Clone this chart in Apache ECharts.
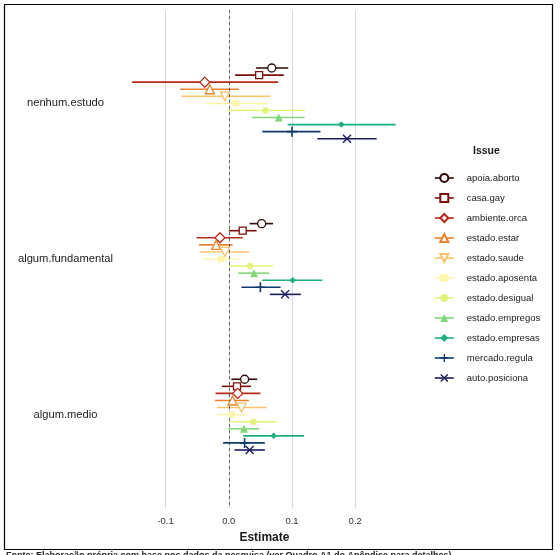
<!DOCTYPE html>
<html>
<head>
<meta charset="utf-8">
<script src="https://cdn.jsdelivr.net/npm/echarts@6/dist/echarts.min.js"></script>
<style>
html,body{margin:0;padding:0;background:#fff;}
#chart{width:560px;height:555px;}
</style>
</head>
<body>
<div id="chart"></div>
<script>
const categories = ['nenhum.estudo', 'algum.fundamental', 'algum.medio'];
const issues = ['apoia.aborto', 'casa.gay', 'ambiente.orca', 'estado.estar', 'estado.saude',
  'estado.aposenta', 'estado.desigual', 'estado.empregos', 'estado.empresas', 'mercado.regula', 'auto.posiciona'];
const xTicks = [-0.1, 0.0, 0.1, 0.2];

const nenhumEst = [0.068, 0.048, -0.038, -0.030, -0.006, 0.011, 0.058, 0.079, 0.178, 0.100, 0.187];
const nenhumLo  = [0.043, 0.010, -0.153, -0.077, -0.075, -0.037, -0.002, 0.037, 0.093, 0.053, 0.140];
const nenhumHi  = [0.094, 0.087, 0.078, 0.016, 0.066, 0.062, 0.120, 0.120, 0.264, 0.145, 0.234];

const fundEst = [0.052, 0.022, -0.014, -0.020, -0.006, -0.012, 0.034, 0.040, 0.101, 0.050, 0.089];
const fundLo  = [0.033, 0.000, -0.051, -0.047, -0.046, -0.040, 0.000, 0.015, 0.053, 0.020, 0.065];
const fundHi  = [0.070, 0.044, 0.022, 0.006, 0.032, 0.016, 0.070, 0.064, 0.148, 0.082, 0.114];

const medioEst = [0.025, 0.013, 0.014, 0.006, 0.020, 0.005, 0.039, 0.024, 0.071, 0.025, 0.033];
const medioLo  = [0.004, -0.011, -0.021, -0.022, -0.019, -0.019, 0.002, -0.001, 0.023, -0.009, 0.009];
const medioHi  = [0.045, 0.035, 0.050, 0.032, 0.060, 0.028, 0.076, 0.048, 0.119, 0.057, 0.057];

const colors = ['#2e0909', '#7b0e0e', '#b52a1a', '#e8832d', '#f8c36c', '#fcf5ae',
  '#e2f27a', '#82d777', '#1eae7f', '#0e3a6e', '#1b1b5e'];

const PLUS = 'path://M4.2,0 H5.8 V4.2 H10 V5.8 H5.8 V10 H4.2 V5.8 H0 V4.2 H4.2 Z';
const CROSS = 'path://M0,1.1 L1.1,0 L5,3.9 L8.9,0 L10,1.1 L6.1,5 L10,8.9 L8.9,10 L5,6.1 L1.1,10 L0,8.9 L3.9,5 Z';
const DOWNTRI = 'path://M0,0 L10,0 L5,8.66 Z';
const symbolSpec = [
  {symbol: 'circle', size: 8, open: true},
  {symbol: 'rect', size: 7, open: true},
  {symbol: 'diamond', size: 10, open: true},
  {symbol: 'triangle', size: 9, open: true},
  {symbol: DOWNTRI, size: 9, open: true},
  {symbol: 'rect', size: 6.5, open: false},
  {symbol: 'circle', size: 6.5, open: false},
  {symbol: 'triangle', size: 8, open: false},
  {symbol: 'diamond', size: 6.5, open: false},
  {symbol: PLUS, size: 10, open: false},
  {symbol: CROSS, size: 9, open: false}
];

const estAll = [nenhumEst, fundEst, medioEst];
const loAll = [nenhumLo, fundLo, medioLo];
const hiAll = [nenhumHi, fundHi, medioHi];
const dodge = 0.5 / issues.length;
function yPos(c, i) { return (c + 1) + (i - (issues.length - 1) / 2) * dodge; }

const pointSeries = [];
const ciSeries = [];
issues.forEach(function (name, i) {
  const spec = symbolSpec[i];
  const pts = [], cis = [];
  categories.forEach(function (cat, c) {
    pts.push([estAll[c][i], yPos(c, i)]);
    cis.push([loAll[c][i], hiAll[c][i], yPos(c, i)]);
  });
  const color = colors[i];
  ciSeries.push({
    type: 'custom',
    name: name + '_ci',
    silent: true,
    z: 2,
    encode: {x: [0, 1], y: 2},
    data: cis,
    renderItem: function (params, api) {
      const p1 = api.coord([api.value(0), api.value(2)]);
      const p2 = api.coord([api.value(1), api.value(2)]);
      return {type: 'line', shape: {x1: p1[0], y1: p1[1], x2: p2[0], y2: p2[1]},
        style: {stroke: color, lineWidth: 1.6}};
    }
  });
  pointSeries.push({
    type: 'line',
    name: name,
    data: pts,
    symbol: spec.symbol,
    symbolSize: spec.size,
    showSymbol: true,
    z: 5,
    silent: true,
    lineStyle: {color: color, width: 1.6, opacity: 0},
    itemStyle: spec.open ? {color: '#ffffff', borderColor: color, borderWidth: 1.3, opacity: 1}
                         : {color: color, borderWidth: 0, opacity: 1},
    emphasis: {disabled: true}
  });
});

pointSeries[0].markLine = {
  silent: true,
  symbol: 'none',
  label: {show: false},
  lineStyle: {type: [3, 3], color: '#444', width: 0.8},
  data: [{xAxis: 0}]
};

const X0 = 228.8, PX = 632;
const xMin = -0.2, xMax = 0.3;
const gridLeft = X0 + xMin * PX;
const gridRight = 560 - (X0 + xMax * PX);

const chart = echarts.init(document.getElementById('chart'), null, {renderer: 'canvas'});
chart.setOption({
  animation: false,
  backgroundColor: '#ffffff',
  textStyle: {fontFamily: 'Liberation Sans'},
  title: {
    text: 'Issue', left: 468, top: 141,
    textStyle: {fontSize: 10.5, fontWeight: 'bold', color: '#1a1a1a', fontFamily: 'Liberation Sans'}
  },
  legend: {
    orient: 'vertical',
    left: 429, top: 168,
    itemWidth: 19, itemHeight: 10, itemGap: 10,
    data: issues,
    selectedMode: false,
    textStyle: {fontSize: 9.5, lineHeight: 10, color: '#1a1a1a', padding: [0, 0, 0, 8], fontFamily: 'Liberation Sans'},
    lineStyle: {opacity: 1, width: 1.6}
  },
  grid: {left: gridLeft, right: gridRight, top: 10, bottom: 555 - 508, containLabel: false},
  xAxis: {
    type: 'value', min: xMin, max: xMax, interval: 0.1,
    axisLine: {show: false}, axisTick: {show: false},
    splitLine: {show: true, showMinLine: false, showMaxLine: false, lineStyle: {color: '#d9d9d9', width: 1}},
    axisLabel: {
      showMinLabel: false, showMaxLabel: false, margin: 8,
      fontSize: 9.5, color: '#333', fontFamily: 'Liberation Sans',
      formatter: function (v) { return xTicks.some(function (t) { return Math.abs(t - v) < 1e-9; }) ? v.toFixed(1) : ''; }
    },
    name: 'Estimate', nameLocation: 'middle', nameGap: 24,
    nameTextStyle: {fontSize: 12, fontWeight: 'bold', color: '#1a1a1a', padding: [0, 0, 0, 8], fontFamily: 'Liberation Sans'}
  },
  yAxis: {
    type: 'value', inverse: true, min: 0.4, max: 3.6,
    axisLine: {show: false}, axisTick: {show: false}, splitLine: {show: false},
    axisLabel: {
      customValues: [1, 2, 3],
      align: 'center', margin: gridLeft - 65.5,
      fontSize: 11.2, color: '#222', fontFamily: 'Liberation Sans',
      formatter: function (v) { return categories[Math.round(v) - 1] || ''; }
    }
  },
  graphic: [
    {type: 'rect', shape: {x: 4.5, y: 4.5, width: 548, height: 545}, style: {fill: null, stroke: '#000', lineWidth: 1.2}, silent: true, z: 100},
    {type: 'text', left: 6, top: 551, style: {text: 'Fonte: Elaboração própria com base nos dados da pesquisa (ver Quadro A1 do Apêndice para detalhes).', fontSize: 9, fontWeight: 'bold', fill: '#222', fontFamily: 'Liberation Sans'}, silent: true}
  ],
  series: pointSeries.concat(ciSeries)
});
</script>
</body>
</html>
